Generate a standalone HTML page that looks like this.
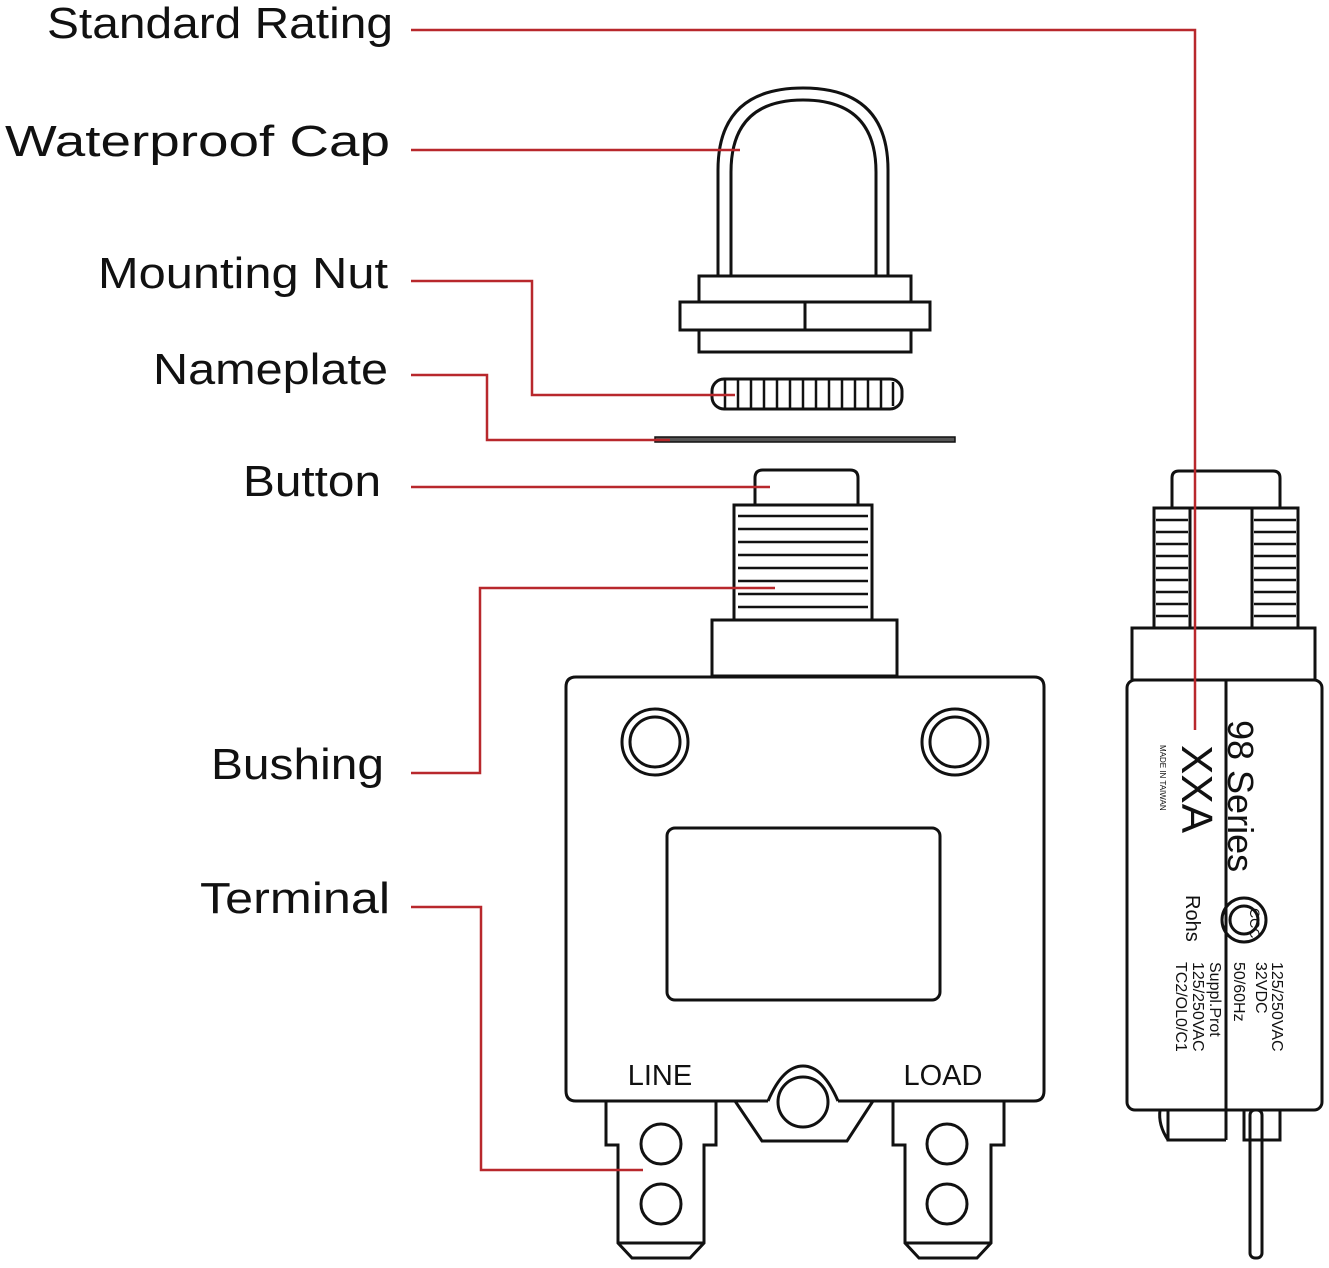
<!DOCTYPE html>
<html><head><meta charset="utf-8"><style>
html,body{margin:0;padding:0;background:#fff;}
svg{display:block;}
.l{font-family:"Liberation Sans",sans-serif;font-size:44px;fill:#111;text-anchor:end;}
.s{font-family:"Liberation Sans",sans-serif;fill:#111;}
</style></head><body>
<svg width="1329" height="1268" viewBox="0 0 1329 1268" xmlns="http://www.w3.org/2000/svg">
<g fill="none" stroke="#111" stroke-width="3">
<!-- cap -->
<path d="M718 276 V170 Q718 88 803 88 Q888 88 888 170 V276"/>
<path d="M731 276 V172 Q731 100 803 100 Q876 100 876 172 V276"/>
<rect x="699" y="276" width="212" height="26"/>
<rect x="680" y="302" width="250" height="28"/>
<line x1="805" y1="302" x2="805" y2="330"/>
<rect x="699" y="330" width="212" height="22"/>
<!-- nut -->
<rect x="712" y="379" width="190" height="30" rx="12"/>
<g stroke-width="2.5">
<line x1="725" y1="380" x2="725" y2="408"/><line x1="738" y1="380" x2="738" y2="408"/><line x1="751" y1="380" x2="751" y2="408"/><line x1="764" y1="380" x2="764" y2="408"/><line x1="777" y1="380" x2="777" y2="408"/><line x1="790" y1="380" x2="790" y2="408"/><line x1="803" y1="380" x2="803" y2="408"/><line x1="816" y1="380" x2="816" y2="408"/><line x1="829" y1="380" x2="829" y2="408"/><line x1="842" y1="380" x2="842" y2="408"/><line x1="855" y1="380" x2="855" y2="408"/><line x1="868" y1="380" x2="868" y2="408"/><line x1="881" y1="380" x2="881" y2="408"/><line x1="893" y1="382" x2="893" y2="406"/>
</g>
<!-- nameplate -->
<rect x="655" y="437" width="300" height="5" fill="#555" stroke-width="1.5"/>
<!-- button -->
<path d="M755 506 V478 Q755 470 763 470 H850 Q858 470 858 478 V506"/>
<!-- bushing -->
<rect x="734" y="505" width="138" height="115"/>
<g stroke-width="2.5">
<path d="M738 516 H868 M738 529 H868 M738 542 H868 M738 555 H868 M738 568 H868 M738 581 H868 M738 594 H868 M738 607 H868"/>
</g>
<rect x="712" y="620" width="185" height="56"/>
<!-- body -->
<path d="M768 1101 Q783 1066 803 1066 Q823 1066 838 1101"/>
<path d="M576 677 H1034 Q1044 677 1044 687 V1091 Q1044 1101 1034 1101 H838 M768 1101 H576 Q566 1101 566 1091 V687 Q566 677 576 677"/>
<circle cx="655" cy="742" r="33"/><circle cx="655" cy="742" r="25"/>
<circle cx="955" cy="742" r="33"/><circle cx="955" cy="742" r="25"/>
<rect x="667" y="828" width="273" height="172" rx="8"/>
<!-- terminals -->
<path d="M606 1101 V1145 H618 V1243 L632 1258 H690 L704 1243 V1145 H716 V1101"/>
<line x1="618" y1="1243" x2="704" y2="1243"/>
<circle cx="661" cy="1144" r="20"/><circle cx="661" cy="1204" r="20"/>
<path d="M893 1101 V1145 H905 V1243 L919 1258 H977 L991 1243 V1145 H1004 V1101"/>
<line x1="905" y1="1243" x2="991" y2="1243"/>
<circle cx="947" cy="1144" r="20"/><circle cx="947" cy="1204" r="20"/>
<path d="M735 1101 L762 1141 H847 L873 1101"/>
<circle cx="803" cy="1102" r="25"/>
<!-- side view -->
<path d="M1172 508 V478 Q1172 471 1179 471 H1273 Q1280 471 1280 478 V508"/>
<rect x="1154" y="508" width="144" height="120"/>
<rect x="1190" y="508" width="62" height="120" fill="#fff"/>
<g stroke-width="2.5">
<path d="M1156 520 H1188 M1156 532 H1188 M1156 544 H1188 M1156 556 H1188 M1156 568 H1188 M1156 580 H1188 M1156 592 H1188 M1156 604 H1188 M1156 616 H1188"/>
<path d="M1254 520 H1296 M1254 532 H1296 M1254 544 H1296 M1254 556 H1296 M1254 568 H1296 M1254 580 H1296 M1254 592 H1296 M1254 604 H1296 M1254 616 H1296"/>
</g>
<rect x="1132" y="628" width="183" height="52"/>
<rect x="1127" y="680" width="195" height="430" rx="8"/>
<line x1="1226" y1="680" x2="1226" y2="1140"/>
<path d="M1168 1110 V1140 H1226"/>
<path d="M1160 1110 Q1158 1125 1168 1140"/>
<path d="M1244 1110 V1140 H1280 V1110"/>
<rect x="1250" y="1110" width="12" height="148" rx="5"/>
<circle cx="1244" cy="920" r="22"/>
<circle cx="1244" cy="920" r="14"/>
</g>
<!-- red connectors -->
<g fill="none" stroke="#b8282c" stroke-width="2.5">
<path d="M411 30 H1195 V730"/>
<path d="M411 150 H740"/>
<path d="M411 281 H532 V395 H735"/>
<path d="M411 375 H487 V440 H670"/>
<path d="M411 487 H770"/>
<path d="M411 773 H480 V588 H775"/>
<path d="M411 907 H481 V1170 H643"/>
</g>
<!-- labels -->
<text class="l" x="393" y="38" textLength="346" lengthAdjust="spacingAndGlyphs">Standard Rating</text>
<text class="l" x="390" y="156" textLength="385" lengthAdjust="spacingAndGlyphs">Waterproof Cap</text>
<text class="l" x="388" y="288" textLength="290" lengthAdjust="spacingAndGlyphs">Mounting Nut</text>
<text class="l" x="388" y="384" textLength="235" lengthAdjust="spacingAndGlyphs">Nameplate</text>
<text class="l" x="381" y="496" textLength="138" lengthAdjust="spacingAndGlyphs">Button</text>
<text class="l" x="384" y="779" textLength="173" lengthAdjust="spacingAndGlyphs">Bushing</text>
<text class="l" x="390" y="913" textLength="190" lengthAdjust="spacingAndGlyphs">Terminal</text>
<text class="s" x="660" y="1085" font-size="29" text-anchor="middle">LINE</text>
<text class="s" x="943" y="1085" font-size="29" text-anchor="middle">LOAD</text>
<!-- side rotated texts -->
<g class="s">
<text transform="translate(1228,720) rotate(90)" font-size="36">98 Series</text>
<text transform="translate(1182,745) rotate(90)" font-size="44">XXA</text>
<text transform="translate(1160,745) rotate(90)" font-size="8">MADE IN TAIWAN</text>
<text transform="translate(1186,895) rotate(90)" font-size="20">Rohs</text>
<text transform="translate(1272,962) rotate(90)" font-size="16">125/250VAC</text>
<text transform="translate(1256,962) rotate(90)" font-size="16">32VDC</text>
<text transform="translate(1234,962) rotate(90)" font-size="16">50/60Hz</text>
<text transform="translate(1210,962) rotate(90)" font-size="16">Suppl.Prot</text>
<text transform="translate(1193,962) rotate(90)" font-size="16">125/250VAC</text>
<text transform="translate(1176,962) rotate(90)" font-size="16">TC2/OL0/C1</text>
<text transform="translate(1250,908) rotate(90)" font-size="14">CCC</text>
</g>
</svg>
</body></html>
